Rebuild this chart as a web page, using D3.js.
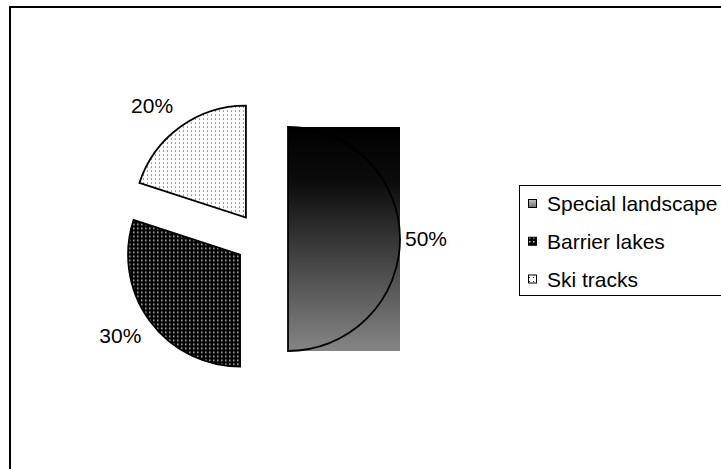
<!DOCTYPE html>
<html>
<head>
<meta charset="utf-8">
<script src="https://cdn.jsdelivr.net/npm/d3@7"></script>
<style>
  html, body { margin: 0; padding: 0; background: #fff; }
  svg { display: block; }
  text { font-family: "Liberation Sans", Arial, sans-serif; font-size: 21px; fill: #000; }
</style>
</head>
<body>
<svg id="chart" width="721" height="469"></svg>
<script>
// ---- data ----
const categories = ["Special landscape", "Barrier lakes", "Ski tracks"];
const values = [50, 30, 20];
const labels = ["50%", "30%", "20%"];

// ---- layout ----
const W = 721, H = 469;
const svg = d3.select("#chart");
const defs = svg.append("defs");

// gradient for Special landscape
const grad = defs.append("linearGradient").attr("id", "gradSL")
  .attr("x1", 0).attr("y1", 0).attr("x2", 0).attr("y2", 1);
grad.append("stop").attr("offset", "0%").attr("stop-color", "#000");
grad.append("stop").attr("offset", "25%").attr("stop-color", "#0c0c0c");
grad.append("stop").attr("offset", "100%").attr("stop-color", "#858585");

const gradL = defs.append("linearGradient").attr("id", "gradLeg")
  .attr("x1", 0).attr("y1", 0).attr("x2", 0).attr("y2", 1);
gradL.append("stop").attr("offset", "0%").attr("stop-color", "#c8c8c8");
gradL.append("stop").attr("offset", "100%").attr("stop-color", "#6a6a6a");

// pattern: dark with light dots (Barrier lakes)
const pB = defs.append("pattern").attr("id", "patB")
  .attr("patternUnits", "userSpaceOnUse").attr("width", 4).attr("height", 4);
pB.append("rect").attr("width", 4).attr("height", 4).attr("fill", "#000");
pB.append("rect").attr("x", 1).attr("y", 1).attr("width", 1.5).attr("height", 1.5).attr("fill", "#d0d0d0");

// pattern: light with dark dots (Ski tracks)
const pS = defs.append("pattern").attr("id", "patS")
  .attr("patternUnits", "userSpaceOnUse").attr("width", 4).attr("height", 4);
pS.append("rect").attr("width", 4).attr("height", 4).attr("fill", "#fff");
pS.append("rect").attr("x", 1).attr("y", 1).attr("width", 1).attr("height", 1).attr("fill", "#333");

const fills = ["url(#gradSL)", "url(#patB)", "url(#patS)"];
const legFills = ["url(#gradLeg)", "url(#patB)", "url(#patS)"];

// chart area border (extends beyond viewport on right / bottom)
svg.append("rect").attr("x", 10).attr("y", 7).attr("width", 780).attr("height", 520)
  .attr("fill", "none").attr("stroke", "#000").attr("stroke-width", 2);

// pie
const cx = 261.5, cy = 239, R = 112, explode = 26.5;
const pie = d3.pie().sort(null).value(d => d);
const arc = d3.arc().innerRadius(0).outerRadius(R);
const arcs = pie(values);

const g = svg.append("g");
arcs.forEach((a, i) => {
  const mid = (a.startAngle + a.endAngle) / 2;
  const sx = cx + Math.sin(mid) * explode;
  const sy = cy - Math.cos(mid) * explode;
  const sg = g.append("g").attr("transform", `translate(${sx},${sy})`);
  const path = sg.append("path").attr("d", arc(a));
  if (i === 0) {
    // gradient fills the slice's bounding box, outline drawn on top
    const bb = path.node().getBBox();
    sg.insert("rect", "path").attr("x", bb.x).attr("y", bb.y)
      .attr("width", bb.width).attr("height", bb.height).attr("fill", fills[i]);
    path.attr("fill", "none").attr("stroke", "#000").attr("stroke-width", 1.8);
  } else {
    path.attr("fill", fills[i]).attr("stroke", "#000").attr("stroke-width", 1.8);
  }
  // label
  const s = Math.sin(mid), c = Math.cos(mid);
  const lx = sx + s * (R + 5) - (s < -0.1 ? 4 : 0);
  const ly = sy - c * (R + 12) - c * 14 + 7;
  svg.append("text").attr("x", lx).attr("y", ly)
    .attr("text-anchor", s < -0.1 ? "end" : "start")
    .text(labels[i]);
});

// legend
const leg = svg.append("g");
leg.append("rect").attr("x", 519.5).attr("y", 185.5).attr("width", 230).attr("height", 110)
  .attr("fill", "#fff").attr("stroke", "#000").attr("stroke-width", 1);
const rowY = d3.scalePoint().domain(categories).range([203.5, 279]);
categories.forEach((cat, i) => {
  const y = rowY(cat);
  leg.append("rect").attr("x", 528.5).attr("y", y - 4).attr("width", 8).attr("height", 8)
    .attr("fill", legFills[i]).attr("stroke", "#000").attr("stroke-width", 1);
  leg.append("text").attr("x", 547).attr("y", y + 7.5).text(cat);
});
</script>
</body>
</html>
